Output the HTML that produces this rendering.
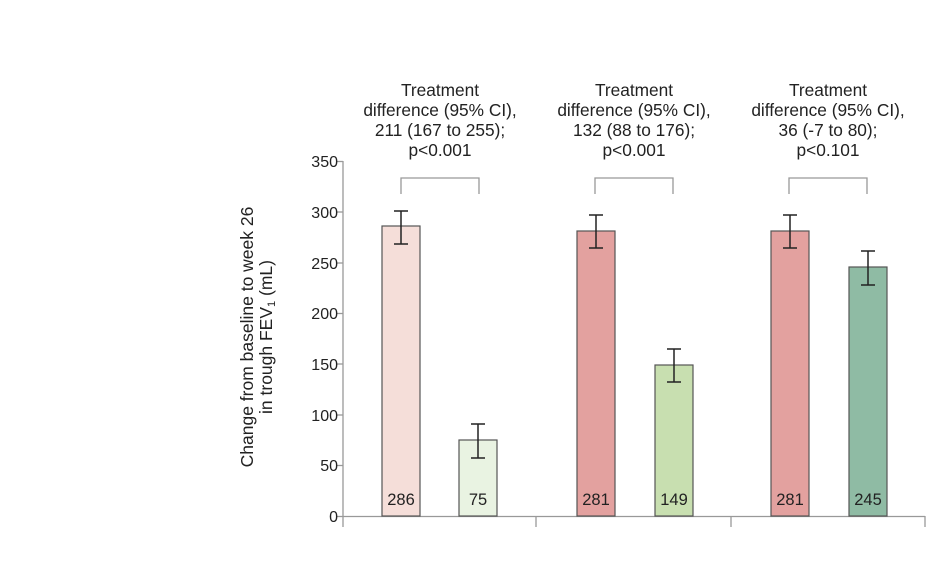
<!DOCTYPE html>
<html><head><meta charset="utf-8"><style>body{margin:0;background:#fff}</style></head><body>
<svg width="940" height="563" xmlns="http://www.w3.org/2000/svg" font-family="Liberation Sans, sans-serif">
<rect width="940" height="563" fill="#fff"/>
<g stroke="#999" stroke-width="1.3" fill="none">
<line x1="343" y1="161" x2="343" y2="527"/>
<line x1="343" y1="516.5" x2="925" y2="516.5"/>
<line x1="536" y1="516" x2="536" y2="527"/>
<line x1="731" y1="516" x2="731" y2="527"/>
<line x1="925" y1="516" x2="925" y2="527"/>
<line x1="337" y1="161.5" x2="343" y2="161.5"/>
<line x1="337" y1="212" x2="343" y2="212"/>
<line x1="337" y1="263" x2="343" y2="263"/>
<line x1="337" y1="313.5" x2="343" y2="313.5"/>
<line x1="337" y1="364" x2="343" y2="364"/>
<line x1="337" y1="415" x2="343" y2="415"/>
<line x1="337" y1="465.5" x2="343" y2="465.5"/>
<line x1="337" y1="516.5" x2="343" y2="516.5"/>
<polyline points="401,194 401,178 479,178 479,194"/>
<polyline points="595,194 595,178 673,178 673,194"/>
<polyline points="789,194 789,178 867,178 867,194"/>
</g>
<g font-size="16" fill="#222" text-anchor="end">
<text x="338" y="167">350</text><text x="338" y="218">300</text><text x="338" y="269">250</text>
<text x="338" y="319">200</text><text x="338" y="370">150</text><text x="338" y="421">100</text>
<text x="338" y="471">50</text><text x="338" y="522">0</text>
</g>
<g stroke="#555" stroke-width="1.2">
<rect x="382" y="226" width="38" height="290" fill="#f5ded9"/>
<rect x="459" y="440" width="38" height="76" fill="#e9f3e2"/>
<rect x="577" y="231" width="38" height="285" fill="#e3a19f"/>
<rect x="655" y="365" width="38" height="151" fill="#c8dfb0"/>
<rect x="771" y="231" width="38" height="285" fill="#e3a19f"/>
<rect x="849" y="267" width="38" height="249" fill="#8fbba4"/>
</g>
<g stroke="#222" stroke-width="1.5">
<path d="M401 211V244M394 211H408M394 244H408"/>
<path d="M478 424V458M471 424H485M471 458H485"/>
<path d="M596 215V248M589 215H603M589 248H603"/>
<path d="M674 349V382M667 349H681M667 382H681"/>
<path d="M790 215V248M783 215H797M783 248H797"/>
<path d="M868 251V285M861 251H875M861 285H875"/>
</g>
<g font-size="16.5" fill="#222" text-anchor="middle">
<text x="401" y="505">286</text><text x="478" y="505">75</text>
<text x="596" y="505">281</text><text x="674" y="505">149</text>
<text x="790" y="505">281</text><text x="868" y="505">245</text>
</g>
<g font-size="17.3" fill="#222" text-anchor="middle">
<text x="440" y="96">Treatment</text><text x="440" y="116">difference (95% CI),</text><text x="440" y="136">211 (167 to 255);</text><text x="440" y="156">p&lt;0.001</text>
<text x="634" y="96">Treatment</text><text x="634" y="116">difference (95% CI),</text><text x="634" y="136">132 (88 to 176);</text><text x="634" y="156">p&lt;0.001</text>
<text x="828" y="96">Treatment</text><text x="828" y="116">difference (95% CI),</text><text x="828" y="136">36 (-7 to 80);</text><text x="828" y="156">p&lt;0.101</text>
<g transform="translate(253,337) rotate(-90)" font-size="17.5"><text x="0" y="0">Change from baseline to week 26</text><text x="0" y="19">in trough FEV<tspan font-size="11" dy="3">1</tspan><tspan dy="-3"> (mL)</tspan></text></g>
</g>
</svg>
</body></html>
